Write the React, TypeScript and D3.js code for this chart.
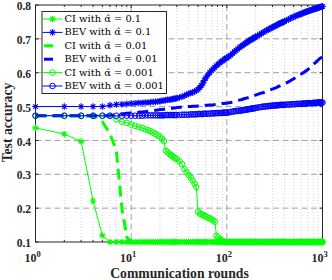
import React from "react";
import * as d3 from "d3";

const ROUNDS = [
  1,2,3,4,5,6,7,8,9,10,11,12,13,14,15,16,17,18,19,20,21,22,23,24,25,26,27,28,29,30,
  32,34,36,38,40,42,44,46,48,50,52,54,56,58,60,
  63,66,69,72,75,78,81,84,87,90,93,96,99,
  100,105,110,115,120,125,130,135,140,145,150,155,160,165,170,175,180,185,190,195,
  200,210,220,230,240,250,260,270,280,290,300,310,320,330,340,350,360,370,380,390,
  400,420,440,460,480,500,520,540,560,580,600,620,640,660,680,700,720,740,760,780,800,820,840,860,880,900,920,940,960,980,1000,
];

// CI with alpha = 0.1
const CI_01 = [
  0.437,0.419,0.397,0.221,0.119,0.1,0.1,0.1,0.1,0.1,0.1,0.1,0.1,0.1,0.1,0.1,0.1,0.1,0.1,0.1,0.1,0.1,0.1,0.1,0.1,0.1,0.1,0.1,0.1,0.1,
  0.1,0.1,0.1,0.1,0.1,0.1,0.1,0.1,0.1,0.1,0.1,0.1,0.1,0.1,0.1,
  0.1,0.1,0.1,0.1,0.1,0.1,0.1,0.1,0.1,0.1,0.1,0.1,0.1,
  0.1,0.1,0.1,0.1,0.1,0.1,0.1,0.1,0.1,0.1,0.1,0.1,0.1,0.1,0.1,0.1,0.1,0.1,0.1,0.1,
  0.1,0.1,0.1,0.1,0.1,0.1,0.1,0.1,0.1,0.1,0.1,0.1,0.1,0.1,0.1,0.1,0.1,0.1,0.1,0.1,
  0.1,0.1,0.1,0.1,0.1,0.1,0.1,0.1,0.1,0.1,0.1,0.1,0.1,0.1,0.1,0.1,0.1,0.1,0.1,0.1,0.1,0.1,0.1,0.1,0.1,0.1,0.1,0.1,0.1,0.1,0.1,
];

// BEV with alpha = 0.1
const BEV_01 = [
  0.5,0.5,0.5,0.5,0.5,0.504,0.506,0.507,0.508,0.509,0.51,0.511,0.511,0.512,0.512,0.513,0.514,0.514,0.515,0.516,0.517,0.518,0.519,0.52,0.52,0.521,0.522,0.523,0.524,0.525,
  0.527,0.529,0.532,0.535,0.538,0.54,0.542,0.545,0.547,0.551,0.556,0.562,0.569,0.577,0.584,
  0.593,0.6,0.606,0.611,0.616,0.621,0.625,0.629,0.632,0.635,0.638,0.641,0.643,
  0.644,0.648,0.652,0.657,0.662,0.666,0.67,0.674,0.677,0.68,0.683,0.686,0.689,0.691,0.694,0.696,0.698,0.7,0.702,0.704,
  0.706,0.709,0.712,0.716,0.719,0.722,0.725,0.727,0.73,0.732,0.734,0.736,0.738,0.74,0.742,0.744,0.746,0.747,0.749,0.75,
  0.752,0.755,0.757,0.76,0.763,0.765,0.767,0.769,0.771,0.772,0.774,0.776,0.777,0.779,0.78,0.781,0.783,0.784,0.785,0.786,0.787,0.788,0.789,0.79,0.791,0.792,0.793,0.794,0.795,0.795,0.796,
];

// CI with alpha = 0.01
const CI_001 = [
  0.473,0.473,0.473,0.473,0.455,0.42,0.37,0.2,0.115,0.1,0.1,0.1,0.1,0.1,0.1,0.1,0.1,0.1,0.1,0.1,0.1,0.1,0.1,0.1,0.1,0.1,0.1,0.1,0.1,0.1,
  0.1,0.1,0.1,0.1,0.1,0.1,0.1,0.1,0.1,0.1,0.1,0.1,0.1,0.1,0.1,
  0.1,0.1,0.1,0.1,0.1,0.1,0.1,0.1,0.1,0.1,0.1,0.1,0.1,
  0.1,0.1,0.1,0.1,0.1,0.1,0.1,0.1,0.1,0.1,0.1,0.1,0.1,0.1,0.1,0.1,0.1,0.1,0.1,0.1,
  0.1,0.1,0.1,0.1,0.1,0.1,0.1,0.1,0.1,0.1,0.1,0.1,0.1,0.1,0.1,0.1,0.1,0.1,0.1,0.1,
  0.1,0.1,0.1,0.1,0.1,0.1,0.1,0.1,0.1,0.1,0.1,0.1,0.1,0.1,0.1,0.1,0.1,0.1,0.1,0.1,0.1,0.1,0.1,0.1,0.1,0.1,0.1,0.1,0.1,0.1,0.1,
];

// BEV with alpha = 0.01
const BEV_001 = [
  0.473,0.473,0.473,0.473,0.473,0.473,0.476,0.478,0.48,0.481,0.482,0.483,0.484,0.485,0.486,0.487,0.488,0.489,0.49,0.491,0.491,0.492,0.493,0.494,0.494,0.495,0.495,0.496,0.496,0.497,
  0.498,0.498,0.499,0.5,0.5,0.5,0.501,0.501,0.501,0.502,0.502,0.503,0.503,0.503,0.504,
  0.504,0.505,0.505,0.505,0.506,0.507,0.507,0.508,0.508,0.509,0.509,0.51,0.51,
  0.51,0.511,0.512,0.513,0.515,0.516,0.518,0.519,0.52,0.521,0.523,0.524,0.525,0.526,0.527,0.528,0.53,0.531,0.532,0.533,
  0.534,0.536,0.538,0.54,0.541,0.543,0.545,0.547,0.549,0.55,0.552,0.553,0.555,0.556,0.558,0.56,0.561,0.563,0.564,0.566,
  0.567,0.57,0.573,0.576,0.579,0.582,0.585,0.588,0.591,0.593,0.596,0.599,0.601,0.604,0.606,0.609,0.612,0.615,0.618,0.621,0.624,0.627,0.629,0.632,0.635,0.637,0.64,0.642,0.644,0.646,0.648,
];

// CI with alpha = 0.001
const CI_0001 = [
  0.473,0.473,0.473,0.473,0.473,0.473,0.462,0.455,0.452,0.447,0.443,0.44,0.437,0.433,0.43,0.427,0.423,0.419,0.415,0.411,0.405,0.398,0.37,0.365,0.361,0.357,0.354,0.35,0.347,0.345,
  0.338,0.33,0.315,0.306,0.298,0.29,0.282,0.272,0.262,0.19,0.184,0.182,0.18,0.178,0.176,
  0.173,0.17,0.167,0.164,0.16,0.118,0.113,0.11,0.106,0.103,0.101,0.1,0.1,
  0.1,0.1,0.1,0.1,0.1,0.1,0.1,0.1,0.1,0.1,0.1,0.1,0.1,0.1,0.1,0.1,0.1,0.1,0.1,0.1,
  0.1,0.1,0.1,0.1,0.1,0.1,0.1,0.1,0.1,0.1,0.1,0.1,0.1,0.1,0.1,0.1,0.1,0.1,0.1,0.1,
  0.1,0.1,0.1,0.1,0.1,0.1,0.1,0.1,0.1,0.1,0.1,0.1,0.1,0.1,0.1,0.1,0.1,0.1,0.1,0.1,0.1,0.1,0.1,0.1,0.1,0.1,0.1,0.1,0.1,0.1,0.1,
];

// BEV with alpha = 0.001
const BEV_0001 = [
  0.473,0.473,0.473,0.473,0.473,0.473,0.473,0.473,0.473,0.473,0.473,0.473,0.473,0.474,0.474,0.474,0.474,0.474,0.474,0.474,0.474,0.474,0.475,0.475,0.475,0.475,0.475,0.475,0.475,0.475,
  0.475,0.476,0.476,0.476,0.476,0.477,0.477,0.477,0.477,0.478,0.478,0.478,0.478,0.479,0.479,
  0.479,0.479,0.48,0.48,0.48,0.481,0.481,0.481,0.481,0.482,0.482,0.482,0.482,
  0.482,0.483,0.484,0.485,0.486,0.487,0.487,0.488,0.488,0.489,0.49,0.49,0.491,0.492,0.492,0.493,0.494,0.494,0.495,0.495,
  0.496,0.497,0.498,0.499,0.5,0.5,0.501,0.501,0.502,0.502,0.503,0.503,0.503,0.504,0.504,0.504,0.505,0.505,0.505,0.505,
  0.505,0.506,0.506,0.506,0.507,0.507,0.507,0.508,0.508,0.508,0.508,0.509,0.509,0.509,0.509,0.51,0.51,0.51,0.51,0.51,0.511,0.511,0.511,0.511,0.511,0.512,0.512,0.512,0.512,0.512,0.512,
];

const LABELS = [
  "CI with α̂ = 0.1",
  "BEV with α̂ = 0.1",
  "CI with α̂ = 0.01",
  "BEV with α̂ = 0.01",
  "CI with α̂ = 0.001",
  "BEV with α̂ = 0.001",
];

const Y_TICKS = [0.1, 0.2, 0.3, 0.4, 0.5, 0.6, 0.7, 0.8];
const X_TICKS = [1, 10, 100, 1000];
const X_TICK_EXP = ["0", "1", "2", "3"];

const GREEN = "#00ff00";
const BLUE = "#0000ff";

type Style = { color: string; width: number; dash?: string; marker: "star" | "circle" | null };

const STYLES: Style[] = [
  { color: GREEN, width: 1, marker: "star" },
  { color: BLUE, width: 1, marker: "star" },
  { color: GREEN, width: 3, dash: "11,6", marker: null },
  { color: BLUE, width: 3, dash: "11,6", marker: null },
  { color: GREEN, width: 1, marker: "circle" },
  { color: BLUE, width: 1, marker: "circle" },
];

const SERIES = [CI_01, BEV_01, CI_001, BEV_001, CI_0001, BEV_0001];

const W = 332, H = 280;
const L = 35.5, R = 322.5, T = 5, B = 242;

const STAR = "M-3.3,0L3.3,0M0,-3.3L0,3.3M-2.3,-2.3L2.3,2.3M-2.3,2.3L2.3,-2.3";

function Marker({ kind, x, y, color }: { kind: string; x: number; y: number; color: string }) {
  if (kind === "star")
    return <path d={STAR} transform={`translate(${x},${y})`} stroke={color} strokeWidth={1.1} fill="none" />;
  return <circle cx={x} cy={y} r={2.8} stroke={color} strokeWidth={1} fill="none" />;
}

export default function App() {
  const x = d3.scaleLog().domain([1, 1000]).range([L, R]);
  const y = d3.scaleLinear().domain([0.1, 0.8]).range([B, T]);
  const line = d3.line<number>().x((_, i) => x(ROUNDS[i])).y((d) => y(d));

  const minor: number[] = [];
  [1, 10, 100].forEach((dec) => {
    for (let k = 2; k <= 9; k++) minor.push(dec * k);
  });

  const font = "'Liberation Serif', 'Times New Roman', serif";
  const legFont = "'DejaVu Serif', serif";
  const legX = 42, legY = 11.5, legW = 124.5, legH = 82;
  const rowH = 13.4;

  return (
    <svg width={W} height={H} style={{ position: "absolute", left: 0, top: 0, background: "#fff" }} fontFamily={font}>
      <rect x={0} y={0} width={W} height={H} fill="#fff" />
      {minor.map((m) => (
        <line key={"mg" + m} x1={x(m)} x2={x(m)} y1={T} y2={B} stroke="#c8c8c8" strokeWidth={0.8} strokeDasharray="1,2" />
      ))}
      {X_TICKS.slice(1, 3).map((t) => (
        <line key={"gx" + t} x1={x(t)} x2={x(t)} y1={T} y2={B} stroke="#a0a0a0" strokeWidth={1} strokeDasharray="6,3.5" />
      ))}
      {Y_TICKS.slice(1, 7).map((t) => (
        <line key={"gy" + t} x1={L} x2={R} y1={y(t)} y2={y(t)} stroke="#a0a0a0" strokeWidth={1} strokeDasharray="6,3.5" />
      ))}
      <rect x={L} y={T} width={R - L} height={B - T} fill="none" stroke="#262626" strokeWidth={1} />
      {Y_TICKS.map((t) => (
        <g key={"yt" + t}>
          <line x1={L} x2={L + 3} y1={y(t)} y2={y(t)} stroke="#262626" />
          <line x1={R} x2={R - 3} y1={y(t)} y2={y(t)} stroke="#262626" />
        </g>
      ))}
      {X_TICKS.map((t) => (
        <g key={"xt" + t}>
          <line x1={x(t)} x2={x(t)} y1={B} y2={B - 3} stroke="#262626" />
          <line x1={x(t)} x2={x(t)} y1={T} y2={T + 3} stroke="#262626" />
        </g>
      ))}
      {minor.map((m) => (
        <g key={"mt" + m}>
          <line x1={x(m)} x2={x(m)} y1={B} y2={B - 2} stroke="#262626" />
          <line x1={x(m)} x2={x(m)} y1={T} y2={T + 2} stroke="#262626" />
        </g>
      ))}
      {SERIES.map((vals, si) => {
        const s = STYLES[si];
        return (
          <g key={"s" + si}>
            <path d={line(vals) || ""} fill="none" stroke={s.color} strokeWidth={s.width} strokeDasharray={s.dash} />
            {s.marker &&
              vals.map((v, i) => <Marker key={i} kind={s.marker as string} x={x(ROUNDS[i])} y={y(v)} color={s.color} />)}
          </g>
        );
      })}
      {Y_TICKS.map((t) => (
        <text key={"yl" + t} x={L - 4.5} y={y(t) + 5.2} textAnchor="end" fontSize={11.5} fontWeight="bold" fill="#262626">
          {t.toFixed(1)}
        </text>
      ))}
      {X_TICKS.map((t, i) => (
        <text key={"xl" + t} x={x(t) - 3} y={262} textAnchor="middle" fontSize={12} fontWeight="bold" fill="#262626">
          10
          <tspan fontSize={8.5} dy={-5}>{X_TICK_EXP[i]}</tspan>
        </text>
      ))}
      <text x={179.5} y={277.5} textAnchor="middle" fontSize={13.7} fontWeight="bold" fill="#262626">
        Communication rounds
      </text>
      <text transform={`translate(11.5,${(T + B) / 2 - 1}) rotate(-90)`} textAnchor="middle" fontSize={13.7} fontWeight="bold" fill="#262626">
        Test accuracy
      </text>
      <rect x={legX} y={legY} width={legW} height={legH} fill="#fff" stroke="#262626" strokeWidth={1} />
      {LABELS.map((lab, i) => {
        const s = STYLES[i];
        const cy = legY + 7.5 + i * rowH;
        return (
          <g key={"lg" + i}>
            {s.dash ? (
              <line x1={legX + 2} x2={legX + 11} y1={cy} y2={cy} stroke={s.color} strokeWidth={s.width} />
            ) : (
              <line x1={legX + 0.5} x2={legX + 20.5} y1={cy} y2={cy} stroke={s.color} strokeWidth={s.width} />
            )}
            {s.marker && <Marker kind={s.marker} x={legX + 10.5} y={cy} color={s.color} />}
            <text x={legX + 22.5} y={cy + 3} fontSize={9.9} fontFamily={legFont} fill="#000">
              {lab}
            </text>
          </g>
        );
      })}
    </svg>
  );
}
